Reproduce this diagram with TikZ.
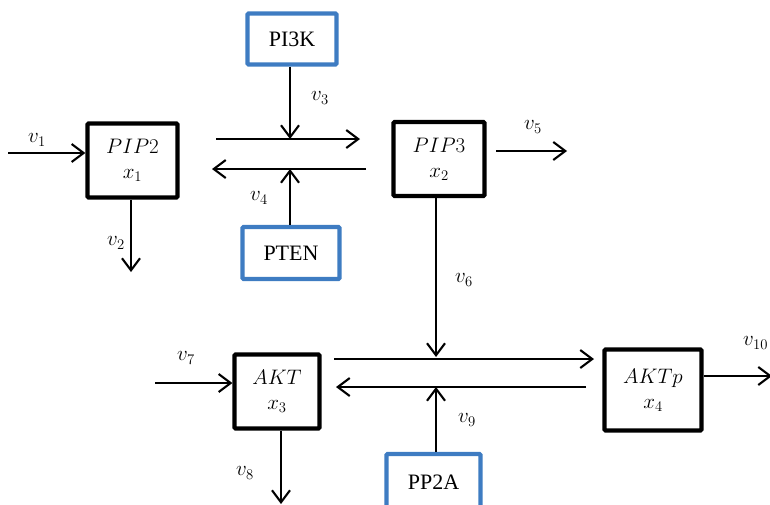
\documentclass[tikz,border=0pt]{standalone}
\usepackage{fix-cm}
\usepackage{fontspec}
\setmainfont{Liberation Serif}
\usetikzlibrary{arrows.meta}
\definecolor{boxblue}{RGB}{62,124,194}
\begin{document}
\begin{tikzpicture}[x=1pt,y=-1pt,
  arr/.style={line width=2.1pt,-{Straight Barb[length=12pt,width=18pt,line width=2.1pt]}},
  species/.style={draw=black,line width=4.2pt,rounded corners=1pt,minimum width=90pt,minimum height=74pt,align=center,font=\fontsize{21}{27}\selectfont,inner sep=0pt},
  enzyme/.style={draw=boxblue,line width=4.2pt,rounded corners=1pt,align=center,font=\fontsize{22}{24}\selectfont,inner sep=0pt},
  rate/.style={font=\fontsize{21}{24}\selectfont,inner sep=0pt}]
\useasboundingbox (0,0) rectangle (770,504);
% species boxes
\node[species] (pip2) at (132.5,160.5) {$PIP2$\\[-2pt]$x_1$};
\node[species,minimum width=91pt] (pip3) at (439,159) {$PIP3$\\[-2pt]$x_2$};
\node[species,minimum width=85pt,minimum height=74pt] (akt) at (277,391.5) {$AKT$\\[-2pt]$x_3$};
\node[species,minimum width=97pt,minimum height=81pt] (aktp) at (653,390) {$AKTp$\\[-2pt]$x_4$};
% enzymes
\node[enzyme,minimum width=89pt,minimum height=51pt] (pi3k) at (292,39) {PI3K};
\node[enzyme,minimum width=97pt,minimum height=52pt] (pten) at (291,253) {PTEN};
\node[enzyme,minimum width=94pt,minimum height=56pt] (pp2a) at (433.5,482) {PP2A};
% coordinates
\coordinate (in1) at (8,153);
\coordinate (f1s) at (216,139);
\coordinate (f1e) at (360,139);
\coordinate (b1s) at (366,169);
\coordinate (b1e) at (212,169);
\coordinate (j3) at (290,139);
\coordinate (j4) at (290,169);
\coordinate (out2) at (131,272);
\coordinate (out5s) at (496,151);
\coordinate (out5e) at (567,151);
\coordinate (j6) at (436,357);
\coordinate (f2s) at (334,359);
\coordinate (f2e) at (594,359);
\coordinate (b2s) at (586,387);
\coordinate (b2e) at (336,387);
\coordinate (j9) at (436,387);
\coordinate (in7) at (155,383);
\coordinate (out8) at (281,504);
\coordinate (out10) at (772,376);
% connectors
\draw[arr] (in1) -- (pip2.west |- in1);
\draw[arr] (pip2.south -| out2) -- (out2);
\draw[arr] (f1s) -- (f1e);
\draw[arr] (b1s) -- (b1e);
\draw[arr] (pi3k.south -| j3) -- (j3);
\draw[arr] (pten.north -| j4) -- (j4);
\draw[arr] (out5s) -- (out5e);
\draw[arr] (pip3.south -| j6) -- (j6);
\draw[arr] (f2s) -- (f2e);
\draw[arr] (b2s) -- (b2e);
\draw[arr] (pp2a.north -| j9) -- (j9);
\draw[arr] (in7) -- (akt.west |- in7);
\draw[arr] (akt.south -| out8) -- (out8);
\draw[arr] (aktp.east |- out10) -- (out10);
% rate labels
\node[rate] (v1) at (37,140) {$v_1$};
\node[rate] (v2) at (116,243) {$v_2$};
\node[rate] (v3) at (320,98) {$v_3$};
\node[rate] (v4) at (259,198) {$v_4$};
\node[rate] (v5) at (533,127) {$v_5$};
\node[rate] (v6) at (464,280) {$v_6$};
\node[rate] (v7) at (186,358) {$v_7$};
\node[rate] (v8) at (245,473) {$v_8$};
\node[rate] (v9) at (467,420) {$v_9$};
\node[rate,anchor=west] (v10) at (743,343) {$v_{10}$};
\end{tikzpicture}
\end{document}
